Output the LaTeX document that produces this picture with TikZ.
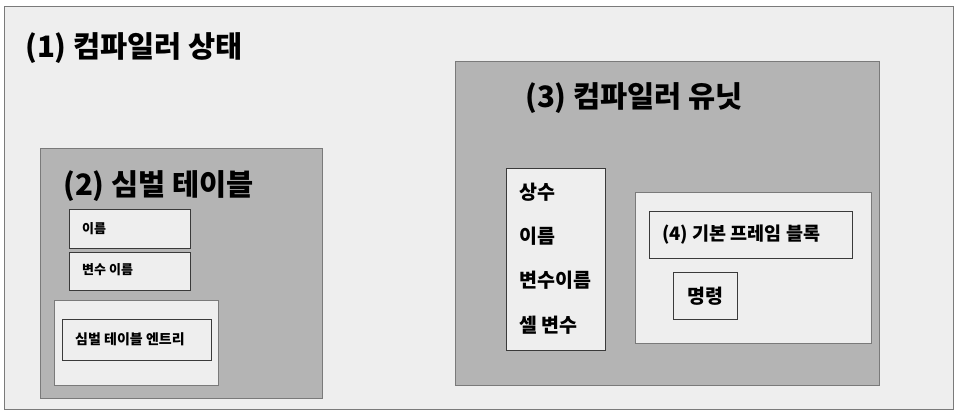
\documentclass[tikz,border=0pt]{standalone}
\usepackage{fontspec}
\setmainfont{Noto Sans CJK KR}

\definecolor{paper}{HTML}{EEEEEE}
\definecolor{slate}{HTML}{B4B4B4}
\definecolor{rim}{HTML}{7A7A7A}
\definecolor{ink}{HTML}{3A3A3A}

\tikzset{
  panel/.style={draw=rim, line width=1.3pt, anchor=north west, inner sep=0pt},
  cell/.style={draw=ink, line width=1.3pt, fill=paper, anchor=north west, inner sep=0pt},
  bigtext/.style={anchor=west, inner sep=0pt, font=\bfseries\fontsize{29.5}{31}\selectfont},
  smalltext/.style={anchor=west, inner sep=0pt, font=\bfseries\fontsize{13}{15}\selectfont},
  listtext/.style={anchor=west, inner sep=0pt, font=\bfseries\fontsize{19.5}{21}\selectfont}
}

\begin{document}
\begin{tikzpicture}[x=1pt,y=-1pt]
\useasboundingbox (0,0) rectangle (958,415);

% (1) outer state
\node [panel, fill=paper, minimum width=949pt, minimum height=403pt] (state) at (4,6) {};
\node [bigtext] (statetitle) at (25,48) {(1) 컴파일러 상태};

% (2) symbol table
\node [panel, fill=slate, minimum width=282pt, minimum height=250pt] (symtab) at (40,148) {};
\node [bigtext] (symtabtitle) at (63,186) {(2) 심벌 테이블};
\node [cell, minimum width=121pt, minimum height=39pt] (namebox) at (69,209) {};
\node [smalltext] (name) at (82,228.5) {이름};
\node [cell, minimum width=121pt, minimum height=38pt] (varbox) at (69,252) {};
\node [smalltext] (varname) at (82,270) {변수 이름};
\node [panel, fill=paper, minimum width=164pt, minimum height=85pt] (entryframe) at (54,300) {};
\node [cell, minimum width=149pt, minimum height=41pt] (entrybox) at (62,319) {};
\node [smalltext, font=\bfseries\fontsize{14}{16}\selectfont] (entry) at (75,339.5) {심벌 테이블 엔트리};

% (3) compiler unit
\node [panel, fill=slate, minimum width=424pt, minimum height=324pt] (unit) at (455,61) {};
\node [bigtext] (unittitle) at (525,98) {(3) 컴파일러 유닛};
\node [cell, minimum width=99pt, minimum height=182pt] (listbox) at (506,168) {};
\node [listtext] (consts) at (519,192) {상수};
\node [listtext] (names) at (519,236) {이름};
\node [listtext] (varnames) at (519,280) {변수이름};
\node [listtext] (cellvars) at (519,325) {셀 변수};

% (4) basic frame block
\node [panel, fill=paper, minimum width=236pt, minimum height=151pt] (blockframe) at (635,192) {};
\node [cell, minimum width=203pt, minimum height=47pt] (blockbox) at (649,211) {};
\node [listtext, font=\bfseries\fontsize{18.5}{20}\selectfont] (block) at (662,235) {(4) 기본 프레임 블록};
\node [cell, minimum width=64pt, minimum height=47pt] (instrbox) at (673,272) {};
\node [listtext, anchor=center] (instr) at (instrbox.center) {명령};
\end{tikzpicture}
\end{document}
